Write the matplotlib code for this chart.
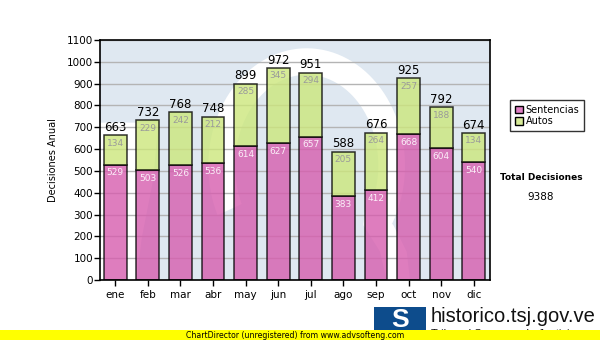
import numpy as np
import matplotlib
matplotlib.use("Agg")
import matplotlib.pyplot as plt
from matplotlib.patches import Rectangle, Polygon, Patch

# data
meses = ["ene", "feb", "mar", "abr", "may", "jun", "jul", "ago", "sep", "oct", "nov", "dic"]
sentencias = [529, 503, 526, 536, 614, 627, 657, 383, 412, 668, 604, 540]
autos = [134, 229, 242, 212, 285, 345, 294, 205, 264, 257, 188, 134]
total_decisiones = 9388

col_sent = "#d65dae"
col_autos = "#cce77c"
col_bg = "#dfe8f1"

fig = plt.figure(figsize=(6, 3.4), dpi=100)
ax = fig.add_axes([100 / 600, 60 / 340, 390 / 600, 240 / 340])

# watermark: light blue square with a big white "S" (axes fraction coords)
ax.set_facecolor(col_bg)
def z2a(pts):
    # points given in a 1170 x 726 grid over the plot area
    return [(x / 1170.0, 1 - y / 726.0) for x, y in pts]

ax.add_patch(Polygon(z2a([(0, 250), (175, 250), (160, 420), (125, 600), (110, 726), (0, 726)]),
                     closed=True, transform=ax.transAxes, color="white", lw=0, zorder=0.1))
t = np.radians(np.linspace(-35, 205, 80))
outer = [(620 + 295 * np.cos(a), 380 - 355 * np.sin(a)) for a in t]
inner = [(620 + 215 * np.cos(a), 380 - 275 * np.sin(a)) for a in t[::-1]]
ax.add_patch(Polygon(z2a(outer + inner), closed=True, transform=ax.transAxes,
                     color="white", lw=0, zorder=0.1))
ax.add_patch(Polygon(z2a([(800, 470), (880, 560), (920, 640), (930, 726), (860, 726), (840, 640), (790, 560)]),
                     closed=True, transform=ax.transAxes, color="white", lw=0, zorder=0.1))

x = np.arange(len(meses))
totales = np.array(sentencias) + np.array(autos)

b1 = ax.bar(x, sentencias, width=0.7, color=col_sent, alpha=0.8, edgecolor="black", lw=1.1, zorder=2)
b2 = ax.bar(x, autos, width=0.7, bottom=sentencias, color=col_autos, alpha=0.8,
            edgecolor="black", lw=1.1, zorder=2)
for r in list(b1) + list(b2):
    r.set_edgecolor((0, 0, 0, 1))

for i in range(len(meses)):
    ax.annotate(str(sentencias[i]), (x[i], sentencias[i]), xytext=(0, -2.5), textcoords="offset points",
                ha="center", va="top", fontsize=6.5, color="#fbeef8", zorder=3)
    ax.annotate(str(autos[i]), (x[i], totales[i]), xytext=(0, -2.5), textcoords="offset points",
                ha="center", va="top", fontsize=6.5, color="#9a9a9a", zorder=3)
    ax.annotate(str(totales[i]), (x[i], totales[i]), xytext=(0, 1), textcoords="offset points",
                ha="center", va="bottom", fontsize=8.5, color="black", zorder=3)

ax.set_xlim(-0.47, 11.5)
ax.set_ylim(0, 1100)
ax.set_yticks(np.arange(0, 1101, 100))
ax.set_xticks(x)
ax.set_xticklabels(meses, fontsize=7.5)
ax.tick_params(axis="y", labelsize=7.5, length=4, width=1, pad=1)
ax.tick_params(axis="x", length=4, width=1, pad=3)
ax.set_axisbelow(True)
ax.yaxis.grid(True, color="#b4b4b4", lw=1)
for s in ax.spines.values():
    s.set_linewidth(1.2)
ax.set_ylabel("Decisiones Anual", fontsize=7, labelpad=6)

leg = fig.legend(handles=[Patch(facecolor="#e080c4", edgecolor="black", label="Sentencias"),
                          Patch(facecolor="#d8ec98", edgecolor="black", label="Autos")],
                 loc="upper left", bbox_to_anchor=(510 / 600, 1 - 100 / 340), fontsize=7,
                 frameon=True, fancybox=False, edgecolor="black", handlelength=0.8, handleheight=0.8,
                 handletextpad=0.3, borderpad=0.5, labelspacing=0.15, borderaxespad=0)
leg.get_frame().set_linewidth(1)

fig.text(541 / 600, 1 - 178 / 340, "Total Decisiones", ha="center", va="center",
         fontsize=6.5, fontweight="bold")
fig.text(541 / 600, 1 - 197 / 340, str(total_decisiones), ha="center", va="center", fontsize=7.5)

# footer: logo and unregistered banner
fig.patches.append(Rectangle((374 / 600, 1 - 334 / 340), 52 / 600, 27 / 340, transform=fig.transFigure,
                             facecolor="#0d4c8c", edgecolor="none", zorder=1))
fig.text(400 / 600, 1 - 320 / 340, "S", ha="center", va="center", fontsize=19, fontweight="bold",
         family="Liberation Sans", color="white", zorder=2)
fig.text(431 / 600, 1 - 316 / 340, "historico.tsj.gov.ve", ha="left", va="center", fontsize=14.5,
         family="Liberation Sans", color="#111111", zorder=2)
fig.text(431 / 600, 1 - 334 / 340, "Tribunal Supremo de Justicia", ha="left", va="center",
         fontsize=8, family="Liberation Sans", color="#111111", zorder=2)
fig.patches.append(Rectangle((0, 0), 1, 10 / 340, transform=fig.transFigure,
                             facecolor="#ffff00", edgecolor="none", zorder=5))
fig.text(295 / 600, 5 / 340, "ChartDirector (unregistered) from www.advsofteng.com", ha="center",
         va="center", fontsize=5.6, color="black", zorder=6)

fig.savefig("out.png", dpi=100, facecolor="white")
